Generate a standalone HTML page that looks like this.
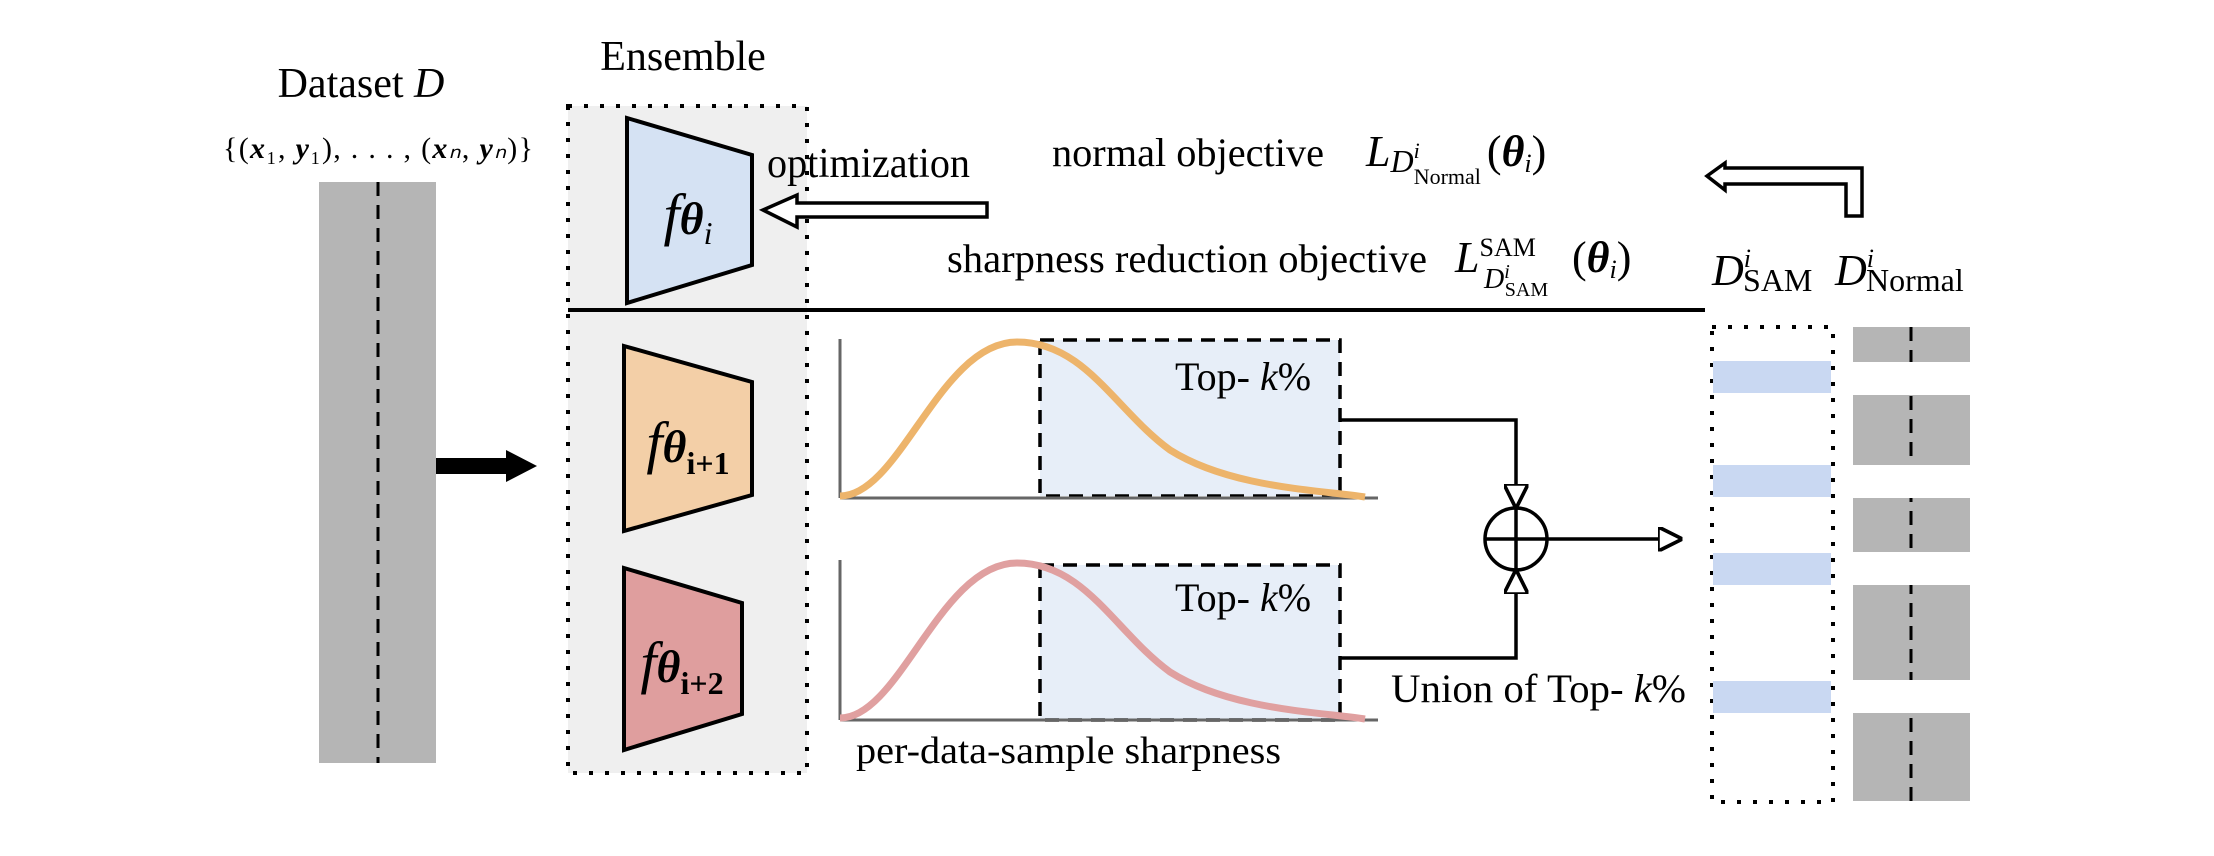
<!DOCTYPE html>
<html><head><meta charset="utf-8"><style>
html,body{margin:0;padding:0;background:#fff;}
svg{display:block;}
text{font-family:"Liberation Serif",serif;fill:#000;}
.it{font-style:italic;}
</style></head><body>
<svg width="2214" height="856" viewBox="0 0 2214 856">
<defs>
<marker id="ah" viewBox="0 0 10 10" refX="9" refY="5" markerWidth="7" markerHeight="7" orient="auto"><path d="M0,0 L10,5 L0,10 Z" fill="#fff" stroke="#000" stroke-width="1.5"/></marker>
</defs>

<!-- Dataset -->
<text x="361" y="97" font-size="42" text-anchor="middle">Dataset <tspan class="it">D</tspan></text>
<text x="378" y="158" font-size="30" text-anchor="middle" textLength="310">{(<tspan font-weight="bold" class="it">x</tspan>₁, <tspan font-weight="bold" class="it">y</tspan>₁), . . . , (<tspan font-weight="bold" class="it">x</tspan><tspan class="it">ₙ</tspan>, <tspan font-weight="bold" class="it">y</tspan><tspan class="it">ₙ</tspan>)}</text>
<rect x="319" y="182" width="117" height="581" fill="#b5b5b5"/>
<line x1="378" y1="182" x2="378" y2="763" stroke="#000" stroke-width="3" stroke-dasharray="14,9"/>
<path d="M436,458 L506,458 L506,450 L537,466 L506,482 L506,474 L436,474 Z" fill="#000"/>

<!-- Ensemble -->
<text x="683" y="70" font-size="42" text-anchor="middle">Ensemble</text>
<rect x="568" y="106" width="239" height="667" fill="#efefef" stroke="#000" stroke-width="4" stroke-dasharray="4,12"/>
<line x1="568" y1="310" x2="1705" y2="310" stroke="#000" stroke-width="4"/>

<polygon points="627,118 752,155 752,265 627,303" fill="#d5e2f3" stroke="#000" stroke-width="4"/>
<text x="688" y="234" font-size="58" class="it" text-anchor="middle">f<tspan font-weight="bold" font-size="46">θ</tspan><tspan font-size="32" dy="10">i</tspan></text>
<polygon points="624,346 752,382 752,495 624,531" fill="#f3cfa7" stroke="#000" stroke-width="4"/>
<text x="688" y="462" font-size="58" class="it" text-anchor="middle">f<tspan font-weight="bold" font-size="46">θ</tspan><tspan font-size="32" font-weight="bold" font-style="normal" dy="12">i+1</tspan></text>
<polygon points="624,568 742,603 742,714 624,750" fill="#df9e9e" stroke="#000" stroke-width="4"/>
<text x="682" y="682" font-size="58" class="it" text-anchor="middle">f<tspan font-weight="bold" font-size="46">θ</tspan><tspan font-size="32" font-weight="bold" font-style="normal" dy="12">i+2</tspan></text>

<!-- optimization arrow -->
<text x="767" y="177" font-size="42" textLength="203" lengthAdjust="spacingAndGlyphs">optimization</text>
<path d="M763,210 L797,195 L797,203 L987,203 L987,217 L797,217 L797,227 Z" fill="#fff" stroke="#000" stroke-width="3.5"/>

<!-- objectives -->
<text x="1052" y="166" font-size="40" textLength="272" lengthAdjust="spacingAndGlyphs">normal objective</text>
<text x="1366" y="166" font-size="44" class="it">L<tspan font-size="32" dy="6">D</tspan><tspan font-size="22" dy="-14">i</tspan><tspan font-size="22" font-style="normal" dx="-6" dy="26">Normal</tspan><tspan font-style="normal" dy="-18" dx="6">(</tspan><tspan font-weight="bold">θ</tspan><tspan font-size="26" dy="6">i</tspan><tspan font-style="normal" dy="-6">)</tspan></text>
<text x="947" y="272" font-size="40" textLength="480" lengthAdjust="spacingAndGlyphs">sharpness reduction objective</text>
<text x="1455" y="272" font-size="44" class="it">L<tspan font-size="26" font-style="normal" dy="-16">SAM</tspan></text>
<text x="1484" y="288" font-size="28" class="it">D<tspan font-size="20" dy="-10">i</tspan><tspan font-size="20" font-style="normal" dx="-5" dy="18">SAM</tspan></text>
<text x="1572" y="272" font-size="44">(<tspan font-weight="bold" class="it">θ</tspan><tspan font-size="26" class="it" dy="6">i</tspan><tspan dy="-6">)</tspan></text>

<!-- elbow arrow -->
<path d="M1707,176 L1725,163 L1725,168 L1862,168 L1862,216 L1846,216 L1846,184 L1725,184 L1725,190 Z" fill="#fff" stroke="#000" stroke-width="3.5"/>

<!-- curve chart 1 -->
<rect x="1040" y="340" width="300" height="156" fill="#e7eef8" stroke="#000" stroke-width="3.5" stroke-dasharray="14,9"/>
<line x1="840" y1="339" x2="840" y2="498" stroke="#666" stroke-width="3"/>
<line x1="840" y1="498" x2="1378" y2="498" stroke="#666" stroke-width="3"/>
<path d="M840,496 C900,496 940,342 1017,342 C1085,342 1115,410 1170,450 C1230,488 1320,490 1365,497" fill="none" stroke="#edb46b" stroke-width="7"/>
<text x="1175" y="390" font-size="40">Top- <tspan class="it">k</tspan>%</text>

<!-- curve chart 2 -->
<rect x="1040" y="565" width="300" height="155" fill="#e7eef8" stroke="#000" stroke-width="3.5" stroke-dasharray="14,9"/>
<line x1="840" y1="560" x2="840" y2="720" stroke="#666" stroke-width="3"/>
<line x1="840" y1="720" x2="1378" y2="720" stroke="#666" stroke-width="3"/>
<path d="M840,718 C900,718 940,563 1017,563 C1085,563 1115,632 1170,672 C1230,710 1320,712 1365,719" fill="none" stroke="#e0a0a0" stroke-width="7"/>
<text x="1175" y="611" font-size="40">Top- <tspan class="it">k</tspan>%</text>
<text x="856" y="763" font-size="38" textLength="425" lengthAdjust="spacingAndGlyphs">per-data-sample sharpness</text>

<!-- union -->
<polyline points="1340,420 1516,420 1516,506" fill="none" stroke="#000" stroke-width="3.5" marker-end="url(#ah)"/>
<polyline points="1340,658 1516,658 1516,572" fill="none" stroke="#000" stroke-width="3.5" marker-end="url(#ah)"/>
<g>
<ellipse cx="1516" cy="539" rx="31" ry="31" fill="#fff" stroke="#000" stroke-width="3.5"/>
<line x1="1485" y1="539" x2="1547" y2="539" stroke="#000" stroke-width="3.5"/>
<line x1="1516" y1="508" x2="1516" y2="570" stroke="#000" stroke-width="3.5"/>
</g>
<line x1="1547" y1="539" x2="1680" y2="539" stroke="#000" stroke-width="3.5" marker-end="url(#ah)"/>
<text x="1391" y="702" font-size="40" textLength="295" lengthAdjust="spacingAndGlyphs">Union of Top- <tspan class="it">k</tspan>%</text>

<!-- D_SAM / D_Normal -->
<text x="1712" y="285" font-size="44" class="it">D<tspan font-size="26" dy="-18">i</tspan><tspan font-size="32" font-style="normal" dx="-8" dy="24">SAM</tspan></text>
<text x="1835" y="285" font-size="44" class="it">D<tspan font-size="26" dy="-18">i</tspan><tspan font-size="32" font-style="normal" dx="-8" dy="24">Normal</tspan></text>
<rect x="1712" y="327" width="121" height="475" fill="none" stroke="#000" stroke-width="4" stroke-dasharray="4,12"/>
<rect x="1713" y="361" width="118" height="32" fill="#c9d8f2"/>
<rect x="1713" y="465" width="118" height="32" fill="#c9d8f2"/>
<rect x="1713" y="553" width="118" height="32" fill="#c9d8f2"/>
<rect x="1713" y="681" width="118" height="32" fill="#c9d8f2"/>
<rect x="1853" y="327" width="117" height="474" fill="#b5b5b5"/>
<line x1="1911" y1="327" x2="1911" y2="801" stroke="#000" stroke-width="3" stroke-dasharray="14,9"/>
<rect x="1853" y="362" width="117" height="33" fill="#fff"/>
<rect x="1853" y="465" width="117" height="33" fill="#fff"/>
<rect x="1853" y="552" width="117" height="33" fill="#fff"/>
<rect x="1853" y="680" width="117" height="33" fill="#fff"/>
</svg>
</body></html>
